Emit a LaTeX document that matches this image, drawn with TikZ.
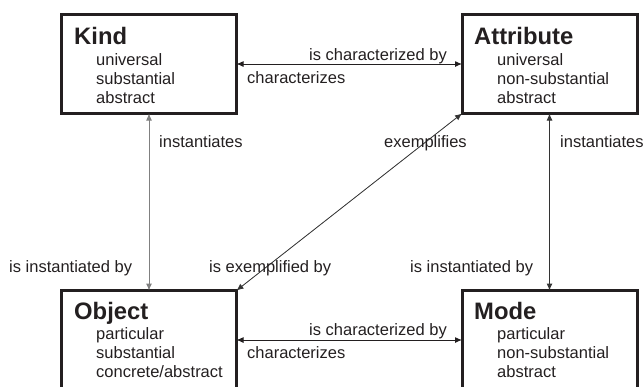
\documentclass[tikz,border=0pt]{standalone}
\usepackage{fontspec}
\setmainfont{Liberation Sans}
\usetikzlibrary{arrows.meta}
\definecolor{ink}{HTML}{231F20}
\tikzset{
  box/.style={draw=ink, line width=3pt, rectangle, minimum width=175pt, minimum height=99pt, inner sep=0pt, outer sep=0pt},
  ttl/.style={anchor=base west, inner sep=0pt, font=\fontsize{23.8}{26}\selectfont\bfseries, text=ink},
  lbl/.style={anchor=base west, inner sep=0pt, font=\fontsize{16.5}{19}\selectfont, text=ink},
  lble/.style={anchor=base east, inner sep=0pt, font=\fontsize{16.5}{19}\selectfont, text=ink},
  conn/.style={line width=1pt, {Latex[length=7pt,width=6pt]}-{Latex[length=7pt,width=6pt]}},
}
\begin{document}
\begin{tikzpicture}[x=1pt,y=-1pt]
\useasboundingbox (0,0) rectangle (643,386);
\begin{scope}
\clip (0,0) rectangle (643,386);
\node[box] (kind) at (149,64) {};
\node[box] (attr) at (549.5,64) {};
\node[box] (obj)  at (149,340) {};
\node[box] (mode) at (549.5,340) {};
\end{scope}
% Kind
\node[ttl] (kt) at (74,44) {Kind};
\node[lbl] (k1) at (96,65) {universal};
\node[lbl] (k2) at (96,84) {substantial};
\node[lbl] (k3) at (96,103) {abstract};
% Attribute
\node[ttl] (at) at (474,44) {Attribute};
\node[lbl] (a1) at (497,65) {universal};
\node[lbl] (a2) at (497,84) {non-substantial};
\node[lbl] (a3) at (497,103) {abstract};
% Object
\node[ttl] (ot) at (74,319) {Object};
\node[lbl] (o1) at (96,339) {particular};
\node[lbl] (o2) at (96,358) {substantial};
\node[lbl] (o3) at (96,377.5) {concrete/abstract};
% Mode
\node[ttl] (mt) at (474,319) {Mode};
\node[lbl] (m1) at (497,339) {particular};
\node[lbl] (m2) at (497,358) {non-substantial};
\node[lbl] (m3) at (497,377.5) {abstract};
% connectors
\draw[conn, draw=ink, fill=ink] (kind.east) -- (attr.west);
\draw[conn, draw=ink, fill=ink] (obj.east |- mode.west) -- (mode.west);
\draw[conn, draw=black!50, fill=black!50] (kind.south) -- (obj.north);
\draw[conn, draw=black!80, fill=black!80] (attr.south) -- (mode.north);
\draw[conn, line width=0.8pt, draw=black!80, fill=black!80] (obj.north east) -- (attr.south west);
% connector labels
\node[lble] (l1) at (447,60) {is characterized by};
\node[lbl] (l2) at (247,83) {characterizes};
\node[lble] (l3) at (447,335.5) {is characterized by};
\node[lbl] (l4) at (247,358) {characterizes};
\node[lbl] (l5) at (159,147.5) {instantiates};
\node[lbl] (l6) at (560,147.5) {instantiates};
\node[lbl] (l7) at (384,147.5) {exemplifies};
\node[lbl] (l8) at (9,272) {is instantiated by};
\node[lbl] (l9) at (209,272) {is exemplified by};
\node[lbl] (l10) at (410,272) {is instantiated by};
\end{tikzpicture}
\end{document}
